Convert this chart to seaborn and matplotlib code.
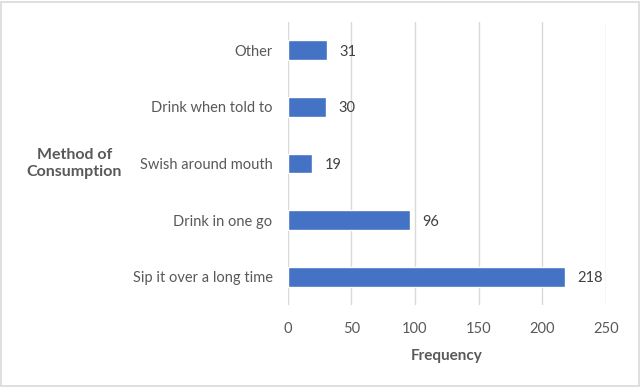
import matplotlib
matplotlib.use("Agg")
import matplotlib.pyplot as plt
import seaborn as sns
import pandas as pd
from matplotlib.patches import Rectangle

methods = ["Other", "Drink when told to", "Swish around mouth",
           "Drink in one go", "Sip it over a long time"]
counts = [31, 30, 19, 96, 218]
x_ticks = [0, 50, 100, 150, 200, 250]

BLUE = "#4472C4"
GREY_TXT = "#595959"
GRID = "#D9D9D9"

sns.set_theme(style="white")
plt.rcParams["font.family"] = ["Lato", "DejaVu Sans"]

df = pd.DataFrame({"method": methods, "count": counts})

fig = plt.figure(figsize=(6.41, 3.87), dpi=100)
ax = fig.add_axes([0.449, 0.211, 0.496, 0.733])

sns.barplot(data=df, x="count", y="method", orient="h", color=BLUE,
            width=0.35, saturation=1, ax=ax)

ax.set_xlim(0, 250)
ax.set_xticks(x_ticks)
ax.xaxis.grid(True, color=GRID, linewidth=1)
ax.set_axisbelow(True)
for s in ax.spines.values():
    s.set_visible(False)
ax.tick_params(axis="both", length=0, labelsize=10.5, labelcolor=GREY_TXT)
ax.tick_params(axis="x", pad=12)
ax.tick_params(axis="y", pad=11)

ax.set_xlabel("Frequency", fontsize=11, fontweight="bold", color=GREY_TXT, labelpad=9)
ax.set_ylabel("Method of\nConsumption", fontsize=11.5, fontweight="bold",
              color=GREY_TXT, rotation=0, ha="center", va="center", labelpad=10)
ax.yaxis.set_label_coords(-0.672, 0.5)

for c in ax.containers:
    for t in ax.bar_label(c, padding=9, fontsize=10.5, color="#404040"):
        t.set_va("center_baseline")

fig.patches.append(Rectangle((0.002, 0.003), 0.995, 0.993, transform=fig.transFigure,
                             fill=False, edgecolor="#D9D9D9", linewidth=1.2))

fig.savefig("out.png", dpi=100)
